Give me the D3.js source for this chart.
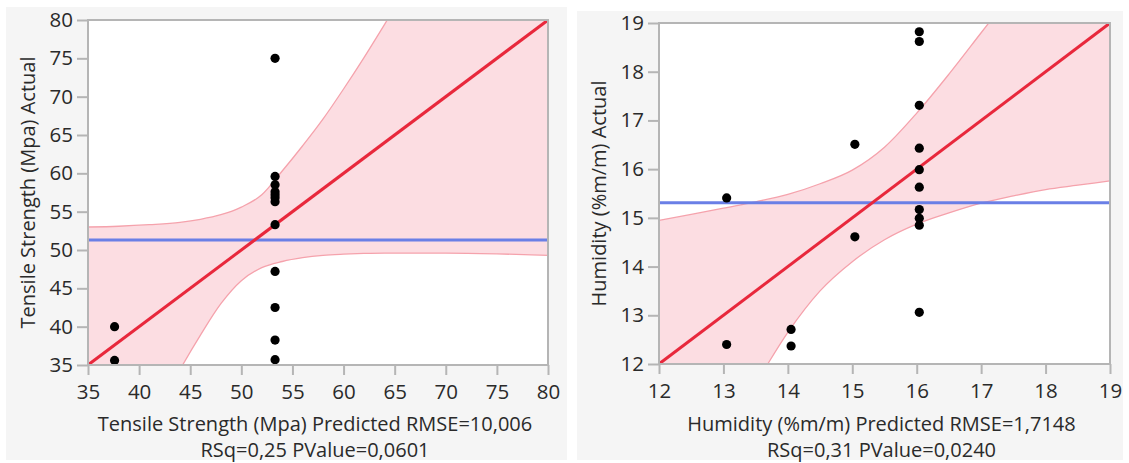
<!DOCTYPE html>
<html>
<head>
<meta charset="utf-8">
<script src="https://cdn.jsdelivr.net/npm/d3@7"></script>
<style>
  html, body { margin: 0; padding: 0; background: #ffffff; }
  svg { display: block; }
  text { font-family: "Open Sans", "Noto Sans", sans-serif; }
</style>
</head>
<body>
<svg id="chart" width="1129" height="463"></svg>
<script>
// Tensile strength: predicted vs actual (MPa)
const tensilePredicted = [37.6, 37.6, 53.3, 53.3, 53.3, 53.3, 53.3, 53.3, 53.3, 53.3, 53.3, 53.3, 53.3, 53.3];
const tensileActual    = [40.0, 35.6, 75.0, 59.6, 58.5, 57.6, 57.2, 56.8, 56.3, 53.3, 47.2, 42.5, 38.25, 35.7];
const tensileTicks = [35, 40, 45, 50, 55, 60, 65, 70, 75, 80];
const tensileMean = 51.3;
// confidence curves of the fit
const tensileBandX     = [35, 38, 41, 44, 46, 48, 50, 52, 54, 56, 58, 60, 62, 64, 66, 70, 75, 80];
const tensileBandUpper = [53.0, 53.1, 53.3, 53.6, 54.0, 54.6, 55.6, 57.2, 60.3, 63.6, 67.1, 71.0, 75.1, 79.4, 83.8, 92, 102, 112];
const tensileBandLower = [12, 19, 27, 34.4, 38.9, 43.0, 46.0, 47.7, 48.5, 49.0, 49.3, 49.45, 49.55, 49.6, 49.6, 49.6, 49.5, 49.3];

// Humidity: predicted vs actual (%m/m)
const humidityPredicted = [13.05, 13.05, 14.05, 14.05, 15.04, 15.04, 16.04, 16.04, 16.04, 16.04, 16.04, 16.04, 16.04, 16.04, 16.04, 16.04];
const humidityActual    = [15.41, 12.40, 12.71, 12.37, 16.51, 14.61, 18.82, 18.62, 17.31, 16.43, 15.99, 15.63, 15.17, 14.99, 14.85, 13.06];
const humidityTicks = [12, 13, 14, 15, 16, 17, 18, 19];
const humidityMean = 15.31;
const humidityBandX     = [12, 12.5, 13, 13.5, 14, 14.5, 15, 15.5, 16, 16.5, 17, 17.5, 18, 18.5, 19];
const humidityBandUpper = [14.95, 15.07, 15.2, 15.33, 15.48, 15.7, 15.98, 16.45, 17.15, 17.95, 18.8, 19.65, 20.5, 21.4, 22.3];
const humidityBandLower = [8.4, 9.5, 10.6, 11.6, 12.65, 13.5, 14.1, 14.55, 14.87, 15.1, 15.3, 15.45, 15.58, 15.67, 15.76];

const panels = [
  {
    id: "tensile",
    bg: [6, 7, 567, 460],
    plot: [88, 20, 548, 365],
    domain: [35, 80],
    ticks: tensileTicks,
    xs: tensilePredicted, ys: tensileActual,
    mean: tensileMean,
    bandX: tensileBandX, bandUpper: tensileBandUpper, bandLower: tensileBandLower,
    yTitle: "Tensile Strength (Mpa) Actual",
    xTitle: ["Tensile Strength (Mpa) Predicted RMSE=10,006", "RSq=0,25 PValue=0,0601"]
  },
  {
    id: "humidity",
    bg: [577, 11, 1123, 460],
    plot: [659, 23, 1110, 364],
    domain: [12, 19],
    ticks: humidityTicks,
    xs: humidityPredicted, ys: humidityActual,
    mean: humidityMean,
    bandX: humidityBandX, bandUpper: humidityBandUpper, bandLower: humidityBandLower,
    yTitle: "Humidity (%m/m) Actual",
    xTitle: ["Humidity (%m/m) Predicted RMSE=1,7148", "RSq=0,31 PValue=0,0240"]
  }
];

const svg = d3.select("#chart");
const frameColor = "#b5b5b5";
const textColor = "#2a2a2a";

panels.forEach(p => {
  const [bx0, by0, bx1, by1] = p.bg;
  const [x0, y0, x1, y1] = p.plot;
  const g = svg.append("g").attr("class", "panel-" + p.id);

  g.append("rect")
    .attr("x", bx0).attr("y", by0)
    .attr("width", bx1 - bx0).attr("height", by1 - by0)
    .attr("fill", "#f5f5f5");

  g.append("rect")
    .attr("x", x0).attr("y", y0)
    .attr("width", x1 - x0).attr("height", y1 - y0)
    .attr("fill", "#ffffff");

  const x = d3.scaleLinear().domain(p.domain).range([x0, x1]);
  const y = d3.scaleLinear().domain(p.domain).range([y1, y0]);

  const clipId = "clip-" + p.id;
  g.append("clipPath").attr("id", clipId)
    .append("rect")
    .attr("x", x0).attr("y", y0)
    .attr("width", x1 - x0).attr("height", y1 - y0);

  const plotArea = g.append("g").attr("clip-path", `url(#${clipId})`);

  const band = p.bandX.map((v, i) => ({ x: v, hi: p.bandUpper[i], lo: p.bandLower[i] }));

  plotArea.append("path")
    .datum(band)
    .attr("fill", "#fcdde2")
    .attr("d", d3.area()
      .curve(d3.curveMonotoneX)
      .x(d => x(d.x))
      .y0(d => y(d.lo))
      .y1(d => y(d.hi)));

  ["hi", "lo"].forEach(k => {
    plotArea.append("path")
      .datum(band)
      .attr("fill", "none")
      .attr("stroke", "#f5a2ac")
      .attr("stroke-width", 1.3)
      .attr("d", d3.line().curve(d3.curveMonotoneX).x(d => x(d.x)).y(d => y(d[k])));
  });

  // mean of actual values
  plotArea.append("line")
    .attr("x1", x(p.domain[0])).attr("x2", x(p.domain[1]))
    .attr("y1", y(p.mean)).attr("y2", y(p.mean))
    .attr("stroke", "#6a7fe6").attr("stroke-width", 3);

  // fit line (actual = predicted)
  plotArea.append("line")
    .attr("x1", x(p.domain[0])).attr("y1", y(p.domain[0]))
    .attr("x2", x(p.domain[1])).attr("y2", y(p.domain[1]))
    .attr("stroke", "#e8283c").attr("stroke-width", 3);

  g.append("g").selectAll("circle")
    .data(p.xs.map((v, i) => [v, p.ys[i]]))
    .join("circle")
    .attr("cx", d => x(d[0]))
    .attr("cy", d => y(d[1]))
    .attr("r", 4.6)
    .attr("fill", "#000000");

  // frame around the plot
  g.append("rect")
    .attr("x", x0).attr("y", y0)
    .attr("width", x1 - x0).attr("height", y1 - y0)
    .attr("fill", "none")
    .attr("stroke", frameColor).attr("stroke-width", 2);

  const xAxis = g.append("g")
    .attr("transform", `translate(0,${y1})`)
    .call(d3.axisBottom(x).tickValues(p.ticks).tickSize(10).tickPadding(9).tickFormat(d3.format("d")));
  const yAxis = g.append("g")
    .attr("transform", `translate(${x0},0)`)
    .call(d3.axisLeft(y).tickValues(p.ticks).tickSize(11).tickPadding(4).tickFormat(d3.format("d")));

  [xAxis, yAxis].forEach(a => {
    a.select(".domain").remove();
    a.selectAll(".tick line").attr("stroke", frameColor).attr("stroke-width", 2);
    a.selectAll(".tick text")
      .attr("fill", textColor)
      .style("font-size", "20.5px");
  });

  g.append("text")
    .attr("transform", `translate(${x0 - 61},${(y0 + y1) / 2}) rotate(-90)`)
    .attr("text-anchor", "middle")
    .attr("dominant-baseline", "central")
    .attr("fill", textColor)
    .style("font-size", "20px")
    .text(p.yTitle);

  p.xTitle.forEach((t, i) => {
    g.append("text")
      .attr("x", (x0 + x1) / 2 - 3)
      .attr("y", 423 + i * 26)
      .attr("text-anchor", "middle")
      .attr("dominant-baseline", "central")
      .attr("fill", textColor)
      .style("font-size", "20px")
      .text(t);
  });
});
</script>
</body>
</html>
